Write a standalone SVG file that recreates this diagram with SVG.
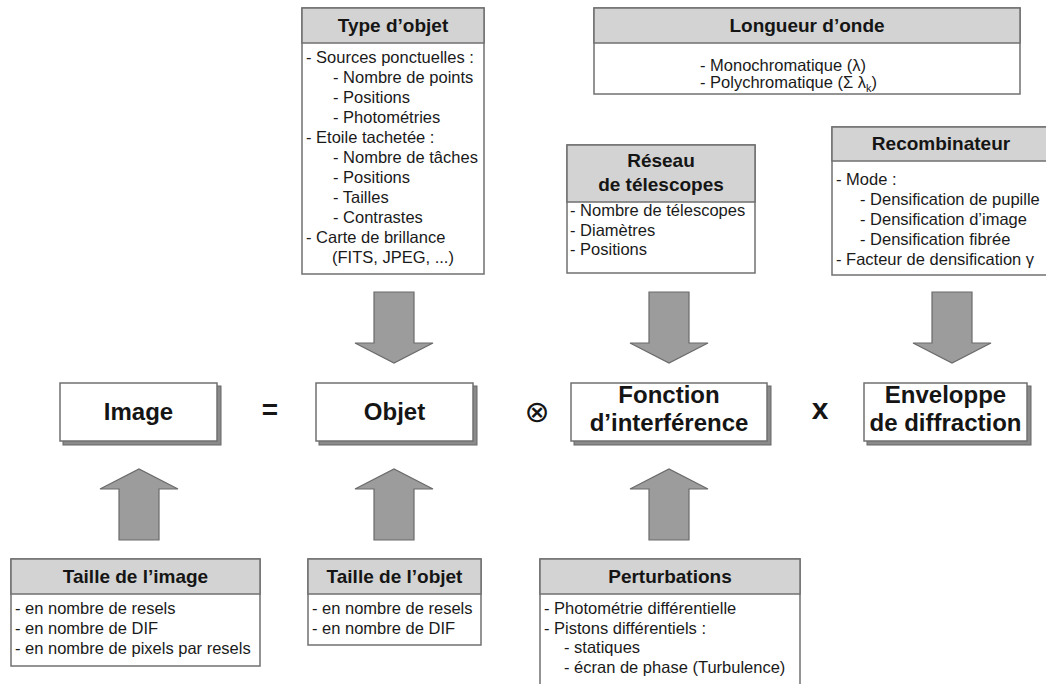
<svg xmlns="http://www.w3.org/2000/svg" width="1046" height="684" viewBox="0 0 1046 684">
<defs>
<style>
.box{fill:#fff;stroke:#707070;stroke-width:1.5}
.hdr{fill:#d3d3d3;stroke:#707070;stroke-width:1.5}
.ht{font-family:"Liberation Sans",Arial,sans-serif;font-weight:bold;font-size:19px;fill:#151515;text-anchor:middle}
.bt{font-family:"Liberation Sans",Arial,sans-serif;font-size:16.5px;fill:#1a1a1a}
.mt{font-family:"Liberation Sans",Arial,sans-serif;font-weight:bold;font-size:24px;fill:#151515;text-anchor:middle}
.op{font-family:"Liberation Sans",Arial,sans-serif;font-weight:bold;fill:#151515;text-anchor:middle}
.sh{fill:#8a8a8a;stroke:#666;stroke-width:1}
.arr{fill:#9c9c9c;stroke:#6a6a6a;stroke-width:1.2}
</style>
</defs>
<rect width="1046" height="684" fill="#fff"/>

<g id="type-objet">
<rect class="box" x="302" y="8" width="182" height="266"/>
<rect class="hdr" x="302" y="8" width="182" height="35"/>
<text class="ht" x="393" y="32">Type d’objet</text>
<text class="bt" x="306" y="63">- Sources ponctuelles :</text>
<text class="bt" x="333" y="83">- Nombre de points</text>
<text class="bt" x="333" y="103">- Positions</text>
<text class="bt" x="333" y="123">- Photométries</text>
<text class="bt" x="306" y="143">- Etoile tachetée :</text>
<text class="bt" x="333" y="163">- Nombre de tâches</text>
<text class="bt" x="333" y="183">- Positions</text>
<text class="bt" x="333" y="203">- Tailles</text>
<text class="bt" x="333" y="223">- Contrastes</text>
<text class="bt" x="306" y="243">- Carte de brillance</text>
<text class="bt" x="332" y="263">(FITS, JPEG, ...)</text>
</g>

<g id="longueur-onde">
<rect class="box" x="594" y="8" width="426" height="86"/>
<rect class="hdr" x="594" y="8" width="426" height="35"/>
<text class="ht" x="807" y="32">Longueur d’onde</text>
<text class="bt" x="700" y="71">- Monochromatique (λ)</text>
<text class="bt" x="700" y="88">- Polychromatique (Σ λ<tspan font-size="11" dy="4">k</tspan><tspan dy="-4">)</tspan></text>
</g>

<g id="reseau">
<rect class="box" x="567" y="145" width="188" height="128"/>
<rect class="hdr" x="567" y="145" width="188" height="57"/>
<text class="ht" x="661" y="167">Réseau</text>
<text class="ht" x="661" y="191">de télescopes</text>
<text class="bt" x="570" y="216">- Nombre de télescopes</text>
<text class="bt" x="570" y="235.5">- Diamètres</text>
<text class="bt" x="570" y="255">- Positions</text>
</g>

<g id="recombinateur">
<rect class="box" x="832" y="127" width="220" height="148"/>
<rect class="hdr" x="832" y="127" width="220" height="34"/>
<text class="ht" x="941" y="150">Recombinateur</text>
<text class="bt" x="836" y="185">- Mode :</text>
<text class="bt" x="860" y="205">- Densification de pupille</text>
<text class="bt" x="860" y="225">- Densification d’image</text>
<text class="bt" x="860" y="245">- Densification fibrée</text>
<text class="bt" x="836" y="265">- Facteur de densification γ</text>
</g>

<g id="image">
<rect class="sh" x="63" y="386" width="158" height="59"/>
<rect class="box" x="60" y="383" width="157" height="58"/>
<text class="mt" x="138.5" y="420">Image</text>
</g>

<g id="objet">
<rect class="sh" x="319" y="386" width="158" height="59"/>
<rect class="box" x="316" y="383" width="157" height="58"/>
<text class="mt" x="394.5" y="420">Objet</text>
</g>

<g id="fonction">
<rect class="sh" x="574" y="386" width="197" height="59"/>
<rect class="box" x="571" y="383" width="196" height="58"/>
<text class="mt" x="669" y="403">Fonction</text>
<text class="mt" x="669" y="431">d’interférence</text>
</g>

<g id="enveloppe">
<rect class="sh" x="867" y="386" width="164" height="59"/>
<rect class="box" x="864" y="383" width="163" height="58"/>
<text class="mt" x="945.5" y="403">Enveloppe</text>
<text class="mt" x="945.5" y="431">de diffraction</text>
</g>

<g id="operators">
<text class="op" x="270" y="419" font-size="28">=</text>
<text x="537" y="422" font-family="DejaVu Sans, sans-serif" font-size="30" fill="#151515" text-anchor="middle">⊗</text>
<text class="op" x="820" y="419" font-size="30">x</text>
</g>

<g id="taille-image">
<rect class="box" x="11" y="559" width="249" height="107"/>
<rect class="hdr" x="11" y="559" width="249" height="35"/>
<text class="ht" x="135.5" y="583">Taille de l’image</text>
<text class="bt" x="15" y="614">- en nombre de resels</text>
<text class="bt" x="15" y="634">- en nombre de DIF</text>
<text class="bt" x="15" y="654">- en nombre de pixels par resels</text>
</g>

<g id="taille-objet">
<rect class="box" x="308" y="559" width="173" height="86"/>
<rect class="hdr" x="308" y="559" width="173" height="35"/>
<text class="ht" x="394.5" y="583">Taille de l’objet</text>
<text class="bt" x="312" y="614">- en nombre de resels</text>
<text class="bt" x="312" y="634">- en nombre de DIF</text>
</g>

<g id="perturbations">
<rect class="box" x="540" y="559" width="260" height="135"/>
<rect class="hdr" x="540" y="559" width="260" height="35"/>
<text class="ht" x="670" y="583">Perturbations</text>
<text class="bt" x="544" y="614">- Photométrie différentielle</text>
<text class="bt" x="544" y="633.5">- Pistons différentiels :</text>
<text class="bt" x="564" y="653">- statiques</text>
<text class="bt" x="564" y="672.5">- écran de phase (Turbulence)</text>
</g>

<g id="connectors">
<polygon class="arr" points="374,292 414,292 414,343 433,343 394,363 355,343 374,343"/>
<polygon class="arr" points="649,292 689,292 689,343 708,343 669,363 630,343 649,343"/>
<polygon class="arr" points="932,292 972,292 972,343 991,343 952,363 913,343 932,343"/>
<polygon class="arr" points="119,540 159,540 159,489 178,489 139,469 100,489 119,489"/>
<polygon class="arr" points="374,540 414,540 414,489 433,489 394,469 355,489 374,489"/>
<polygon class="arr" points="649,540 689,540 689,489 708,489 669,469 630,489 649,489"/>
</g>
</svg>
